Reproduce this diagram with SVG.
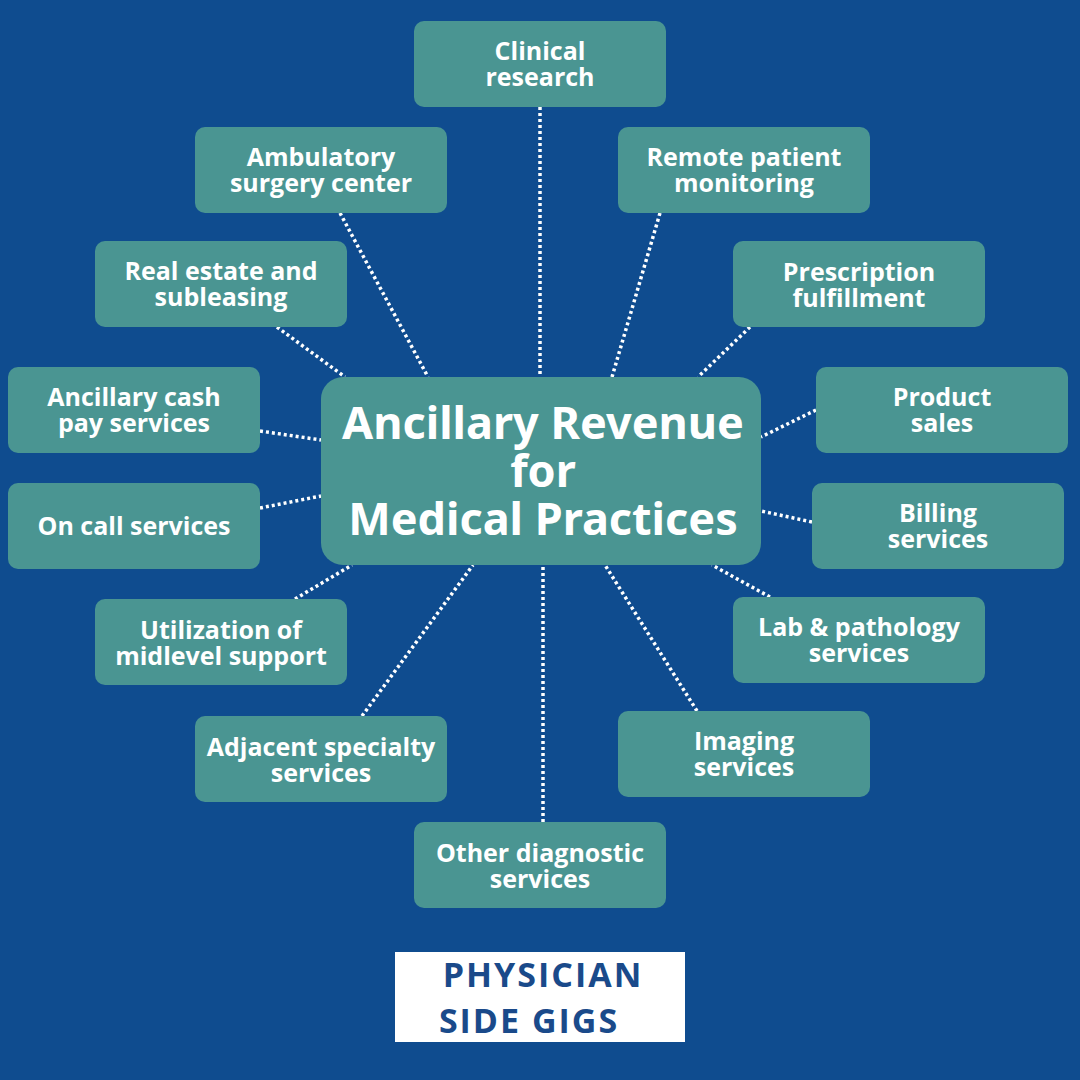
<svg xmlns="http://www.w3.org/2000/svg" width="1080" height="1080" viewBox="0 0 1080 1080">
<style>
.n{fill:#4a9592}
.t{fill:#fff;font-family:"Open Sans",sans-serif;font-weight:700;font-size:25px;text-anchor:middle}
.c{fill:#fff;font-family:"Noto Sans",sans-serif;font-weight:700;font-size:45px;text-anchor:middle}
.l{stroke:#fff;stroke-width:3.5;stroke-dasharray:3 3;fill:none}
.g{fill:#1a4a8a;font-family:"Open Sans",sans-serif;font-weight:700;font-size:34px;text-anchor:middle;letter-spacing:2px}
</style>
<rect width="1080" height="1080" fill="#0f4c8f"/>
<g id="connectors">
<line class="l" x1="540" y1="107" x2="540" y2="377"/>
<line class="l" x1="340" y1="213" x2="428" y2="377"/>
<line class="l" x1="660" y1="213" x2="612" y2="377"/>
<line class="l" x1="277" y1="327" x2="345" y2="377"/>
<line class="l" x1="750" y1="327" x2="698" y2="377"/>
<line class="l" x1="260" y1="431" x2="321" y2="440"/>
<line class="l" x1="816" y1="410" x2="761" y2="437"/>
<line class="l" x1="260" y1="508" x2="321" y2="496"/>
<line class="l" x1="812" y1="522" x2="761" y2="511"/>
<line class="l" x1="295" y1="599" x2="352" y2="565"/>
<line class="l" x1="770" y1="597" x2="712" y2="565"/>
<line class="l" x1="362" y1="716" x2="473" y2="565"/>
<line class="l" x1="697" y1="711" x2="605" y2="565"/>
<line class="l" x1="543" y1="822" x2="543" y2="565"/>
</g>
<g id="center"><rect class="n" x="321" y="377" width="440" height="188" rx="22"/>
<text class="c" x="543" y="439">Ancillary Revenue</text><text class="c" x="543" y="487">for</text><text class="c" x="543" y="535">Medical Practices</text></g>
<g id="n1"><rect class="n" x="414" y="21" width="252" height="86" rx="10"/><text class="t" x="540" y="60">Clinical</text><text class="t" x="540" y="86">research</text></g>
<g id="n2"><rect class="n" x="195" y="127" width="252" height="86" rx="10"/><text class="t" x="321" y="166">Ambulatory</text><text class="t" x="321" y="192">surgery center</text></g>
<g id="n3"><rect class="n" x="618" y="127" width="252" height="86" rx="10"/><text class="t" x="744" y="166">Remote patient</text><text class="t" x="744" y="192">monitoring</text></g>
<g id="n4"><rect class="n" x="95" y="241" width="252" height="86" rx="10"/><text class="t" x="221" y="280">Real estate and</text><text class="t" x="221" y="306">subleasing</text></g>
<g id="n5"><rect class="n" x="733" y="241" width="252" height="86" rx="10"/><text class="t" x="859" y="281">Prescription</text><text class="t" x="859" y="307">fulfillment</text></g>
<g id="n6"><rect class="n" x="8" y="367" width="252" height="86" rx="10"/><text class="t" x="134" y="406">Ancillary cash</text><text class="t" x="134" y="432">pay services</text></g>
<g id="n7"><rect class="n" x="816" y="367" width="252" height="86" rx="10"/><text class="t" x="942" y="406">Product</text><text class="t" x="942" y="432">sales</text></g>
<g id="n8"><rect class="n" x="8" y="483" width="252" height="86" rx="10"/><text class="t" x="134" y="535">On call services</text></g>
<g id="n9"><rect class="n" x="812" y="483" width="252" height="86" rx="10"/><text class="t" x="938" y="522">Billing</text><text class="t" x="938" y="548">services</text></g>
<g id="n10"><rect class="n" x="95" y="599" width="252" height="86" rx="10"/><text class="t" x="221" y="639">Utilization of</text><text class="t" x="221" y="665">midlevel support</text></g>
<g id="n11"><rect class="n" x="733" y="597" width="252" height="86" rx="10"/><text class="t" x="859" y="636">Lab &amp; pathology</text><text class="t" x="859" y="662">services</text></g>
<g id="n12"><rect class="n" x="195" y="716" width="252" height="86" rx="10"/><text class="t" x="321" y="756">Adjacent specialty</text><text class="t" x="321" y="782">services</text></g>
<g id="n13"><rect class="n" x="618" y="711" width="252" height="86" rx="10"/><text class="t" x="744" y="750">Imaging</text><text class="t" x="744" y="776">services</text></g>
<g id="n14"><rect class="n" x="414" y="822" width="252" height="86" rx="10"/><text class="t" x="540" y="862">Other diagnostic</text><text class="t" x="540" y="888">services</text></g>
<g id="logo"><rect x="395" y="952" width="290" height="90" fill="#fff"/><text class="g" x="543" y="987">PHYSICIAN</text><text class="g" x="529" y="1033">SIDE GIGS</text></g>
</svg>
